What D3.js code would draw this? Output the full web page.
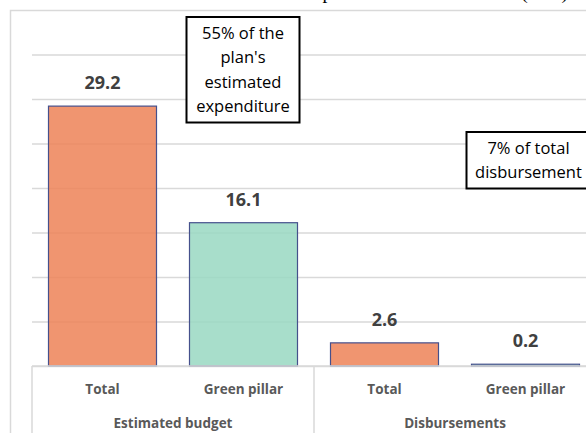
<!DOCTYPE html>
<html>
<head>
<meta charset="utf-8">
<script src="https://cdn.jsdelivr.net/npm/d3@7/dist/d3.min.js"></script>
<style>
  html, body { margin: 0; padding: 0; background: #fff; }
  svg { display: block; }
</style>
</head>
<body>
<svg id="chart" width="586" height="433"></svg>
<script>
// Green pillar: estimated budget vs. disbursements
const groups = ["Estimated budget", "Disbursements"];
const categories = ["Total", "Green pillar", "Total", "Green pillar"];
const categoryGroup = [0, 0, 1, 1];
const values = [29.2, 16.1, 2.6, 0.2];
const yTicks = [0, 5, 10, 15, 20, 25, 30, 35];
const title = "Green pillar financial execution (€ bn)";
const noteBudget = ["55% of the", "plan's", "estimated", "expenditure"];
const noteDisb = ["7% of total", "disbursement"];

const fills = { "Total": "#ED8257", "Green pillar": "#99D8C2" };

const svg = d3.select("#chart");
const W = 586, H = 433;
const plot = { left: 32, right: 596, top: 54.5, bottom: 366 };

const keys = categories.map((c, i) => i);
const x = d3.scaleBand().domain(keys).range([plot.left, plot.right]).paddingInner(0.234).paddingOuter(0.117);
const y = d3.scaleLinear().domain([0, 35]).range([plot.bottom, plot.top]);

// outer chart frame
svg.append("rect")
  .attr("x", 10.5).attr("y", 10.5).attr("width", W + 20).attr("height", H + 20)
  .attr("fill", "#fff").attr("stroke", "#d9d9d9").attr("stroke-width", 1.5);

// horizontal gridlines
const grid = svg.append("g").attr("transform", `translate(${plot.left},0)`)
  .call(d3.axisLeft(y).tickValues(yTicks).tickSize(-(W - plot.left)).tickFormat(""));
grid.select(".domain").remove();
grid.selectAll(".tick line").attr("stroke", "#d9d9d9").attr("stroke-width", 1.3);

// bars
svg.append("g").selectAll("rect").data(values).join("rect")
  .attr("x", (d, i) => x(i))
  .attr("y", d => y(d))
  .attr("width", x.bandwidth())
  .attr("height", d => y(0) - y(d))
  .attr("fill", (d, i) => fills[categories[i]])
  .attr("fill-opacity", 0.85)
  .attr("stroke", "#45508C")
  .attr("stroke-width", 1.2);

// value labels
svg.append("g").selectAll("text").data(values).join("text")
  .attr("x", (d, i) => x(i) + x.bandwidth() / 2)
  .attr("y", d => y(d) - 17)
  .attr("text-anchor", "middle")
  .attr("font-family", "'Open Sans', sans-serif")
  .attr("font-weight", 700)
  .attr("font-size", 18)
  .attr("fill", "#404040")
  .text(d => d.toFixed(1));

// category axis box
const axisG = svg.append("g");
axisG.append("line").attr("x1", plot.left).attr("x2", W).attr("y1", plot.bottom).attr("y2", plot.bottom)
  .attr("stroke", "#d9d9d9").attr("stroke-width", 1.5);
const step = x.step();
const groupBounds = groups.map((g, gi) => {
  const idx = keys.filter(i => categoryGroup[i] === gi);
  const x0 = x(idx[0]) - step * x.paddingInner() / 2;
  const x1 = x(idx[idx.length - 1]) + x.bandwidth() + step * x.paddingInner() / 2;
  return { name: g, x0, x1 };
});
const seps = [groupBounds[0].x0, ...groupBounds.map(b => b.x1)];
axisG.selectAll("line.sep").data(seps).join("line").attr("class", "sep")
  .attr("x1", d => d).attr("x2", d => d).attr("y1", plot.bottom).attr("y2", H)
  .attr("stroke", "#d9d9d9").attr("stroke-width", 1.5);

axisG.selectAll("text.cat").data(categories).join("text").attr("class", "cat")
  .attr("x", (d, i) => x(i) + x.bandwidth() / 2)
  .attr("y", 394)
  .attr("text-anchor", "middle")
  .attr("font-family", "'Open Sans', sans-serif")
  .attr("font-weight", 700)
  .attr("font-size", 13.5)
  .attr("fill", "#595959")
  .text(d => d);

axisG.selectAll("text.grp").data(groupBounds).join("text").attr("class", "grp")
  .attr("x", d => (d.x0 + d.x1) / 2)
  .attr("y", 428)
  .attr("text-anchor", "middle")
  .attr("font-family", "'Open Sans', sans-serif")
  .attr("font-weight", 700)
  .attr("font-size", 13.5)
  .attr("fill", "#595959")
  .text(d => d.name);

// callout boxes
function note(lines, cx, top, w) {
  const lh = 24.5, pad = 16;
  const h = pad * 2 + lh * (lines.length - 1);
  const g = svg.append("g");
  g.append("rect").attr("x", cx - w / 2).attr("y", top).attr("width", w).attr("height", h)
    .attr("fill", "#fff").attr("stroke", "#000").attr("stroke-width", 2);
  g.selectAll("text").data(lines).join("text")
    .attr("x", cx).attr("y", (d, i) => top + pad + i * lh)
    .attr("dy", "0.35em")
    .attr("text-anchor", "middle")
    .attr("font-family", "'Open Sans', sans-serif")
    .attr("font-size", 16.5)
    .attr("fill", "#000")
    .text(d => d);
}
note(noteBudget, x(1) + x.bandwidth() / 2 - 0.5, 17, 113);
note(noteDisb, x(3) + x.bandwidth() / 2 + 3, 132, 124);

// title, mostly above the visible area
svg.append("text")
  .attr("x", 568).attr("y", -1)
  .attr("text-anchor", "end")
  .attr("font-family", "'Liberation Serif', serif")
  .attr("font-size", 19.4)
  .attr("fill", "#000")
  .text(title);
</script>
</body>
</html>
